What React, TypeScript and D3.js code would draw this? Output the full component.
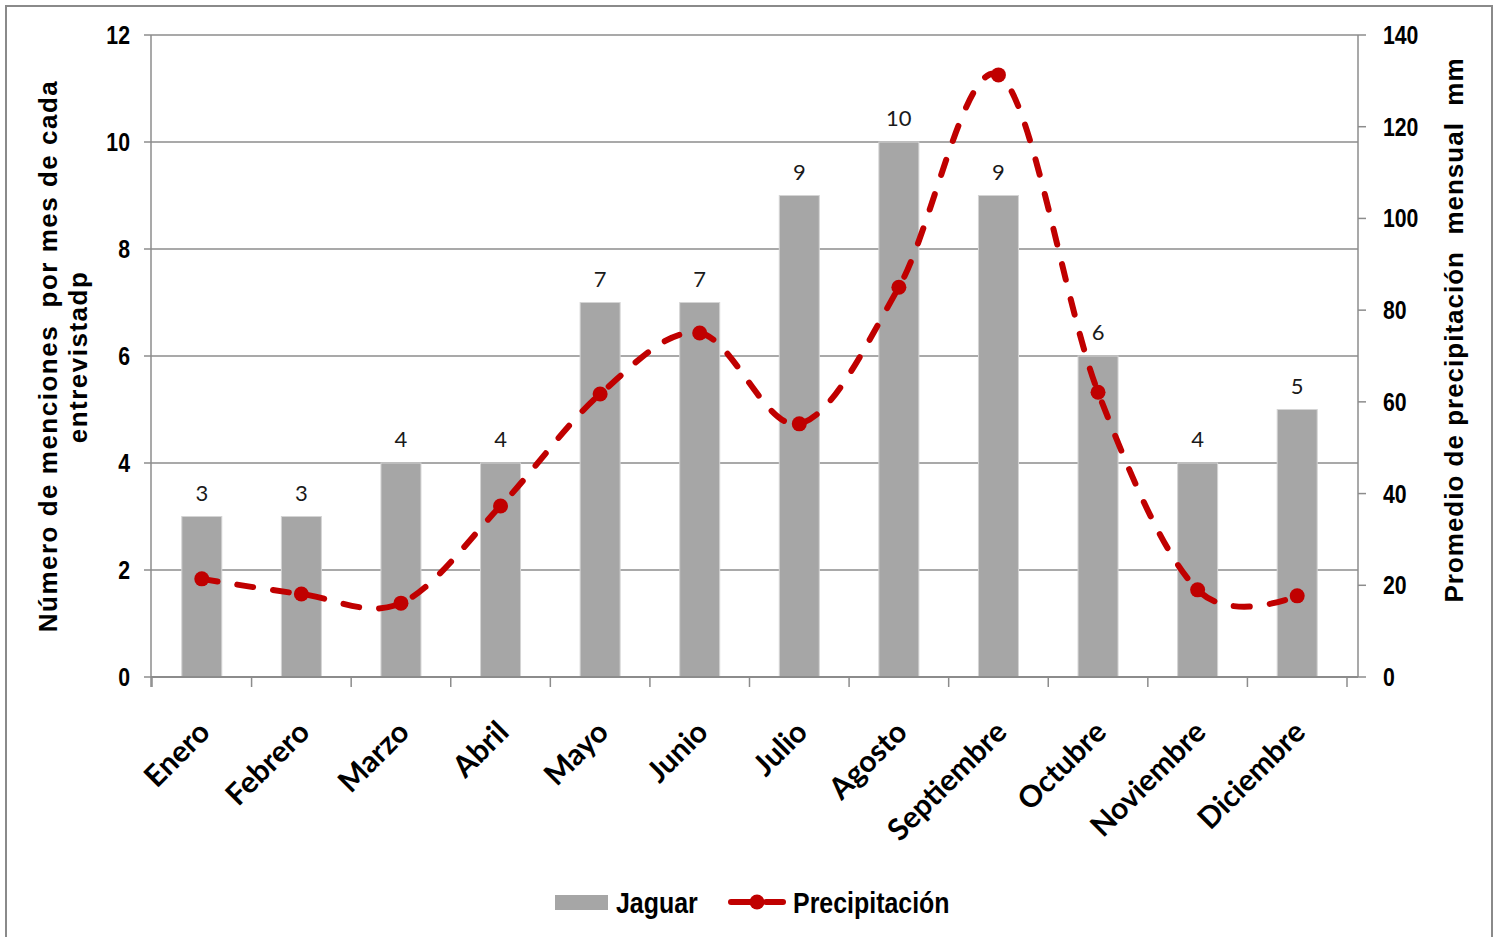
import React from "react";
import * as d3 from "d3";

const months = [
  "Enero", "Febrero", "Marzo", "Abril", "Mayo", "Junio",
  "Julio", "Agosto", "Septiembre", "Octubre", "Noviembre", "Diciembre",
];
const jaguar = [3, 3, 4, 4, 7, 7, 9, 10, 9, 6, 4, 5];
const precipitacion = [21.4, 18.1, 16.1, 37.3, 61.7, 75.0, 55.2, 85.0, 131.3, 62.1, 19.0, 17.7];
const leftTicks = [0, 2, 4, 6, 8, 10, 12];
const rightTicks = [0, 20, 40, 60, 80, 100, 120, 140];

const W = 1497;
const H = 937;
// plot frame: categories span catLeft..catRight, the secondary axis sits at M.right
const M = { left: 151, right: 1358, catLeft: 152, catRight: 1347, top: 35, bottom: 677 };

const sans = "'Liberation Sans', Arial, sans-serif";
const calibri = "Lato, 'Open Sans', sans-serif";
const RED = "#C00000";
const BAR = "#A6A6A6";
const GRID = "#8C8C8C";

// condensed bold label (narrow face emulated by horizontal scaling)
function NarrowText(props: {
  x: number;
  y: number;
  size: number;
  anchor: "start" | "end" | "middle";
  squeeze?: number;
  children: React.ReactNode;
}) {
  const s = props.squeeze ?? 0.85;
  return (
    <text
      transform={`translate(${props.x},${props.y}) scale(${s},1)`}
      textAnchor={props.anchor}
      fontFamily={sans}
      fontWeight="bold"
      fontSize={props.size}
      fill="#000"
    >
      {props.children}
    </text>
  );
}

export default function App() {
  const x = d3.scaleBand<string>().domain(months).range([M.catLeft, M.catRight]).paddingInner(0).paddingOuter(0);
  const yL = d3.scaleLinear().domain([0, 12]).range([M.bottom, M.top]);
  const yR = d3.scaleLinear().domain([0, 140]).range([M.bottom, M.top]);
  const barW = 40;
  const cx = (m: string) => (x(m) as number) + x.bandwidth() / 2;

  const line = d3
    .line<number>()
    .x((_, i) => cx(months[i]))
    .y((d) => yR(d))
    .curve(d3.curveCardinal.tension(0));
  const pathD = line(precipitacion) || "";

  const boundaries = d3.range(months.length + 1).map((i) => M.catLeft + i * x.bandwidth());

  return (
    <svg
      width={W}
      height={H}
      style={{ position: "absolute", left: 0, top: 0, background: "#fff" }}
    >
      {/* frame */}
      <rect x={6} y={6} width={1486} height={H + 20} fill="#fff" stroke="#8a8a8a" strokeWidth={2} />

      {/* gridlines */}
      {leftTicks.map((t) => (
        <line key={"g" + t} x1={M.left} x2={M.right} y1={yL(t)} y2={yL(t)} stroke={GRID} strokeWidth={1.5} />
      ))}

      {/* bars */}
      {months.map((m, i) => (
        <rect
          key={"b" + m}
          x={cx(m) - barW / 2}
          y={yL(jaguar[i])}
          width={barW}
          height={yL(0) - yL(jaguar[i])}
          fill={BAR}
          stroke="#d4d4d4"
          strokeWidth={1}
        />
      ))}

      {/* bar value labels */}
      {months.map((m, i) => (
        <text
          key={"l" + m}
          x={cx(m)}
          y={yL(jaguar[i]) - 16}
          textAnchor="middle"
          fontFamily={calibri}
          fontSize={22}
          fill="#1a1a1a"
        >
          {jaguar[i]}
        </text>
      ))}

      {/* left axis */}
      <line x1={M.left} x2={M.left} y1={M.top} y2={M.bottom + 10} stroke={GRID} strokeWidth={1.5} />
      {leftTicks.map((t) => (
        <g key={"lt" + t}>
          <line x1={M.left - 7} x2={M.left} y1={yL(t)} y2={yL(t)} stroke={GRID} strokeWidth={1.5} />
          <NarrowText x={130} y={yL(t) + 9} size={25} anchor="end">
            {t}
          </NarrowText>
        </g>
      ))}

      {/* right axis */}
      <line x1={M.right} x2={M.right} y1={M.top} y2={M.bottom} stroke={GRID} strokeWidth={1.5} />
      {rightTicks.map((t) => (
        <g key={"rt" + t}>
          <line x1={M.right} x2={M.right + 8} y1={yR(t)} y2={yR(t)} stroke={GRID} strokeWidth={1.5} />
          <NarrowText x={1383} y={yR(t) + 9} size={25} anchor="start">
            {t}
          </NarrowText>
        </g>
      ))}

      {/* category axis */}
      <line x1={M.left} x2={M.right} y1={M.bottom} y2={M.bottom} stroke={GRID} strokeWidth={2} />
      {boundaries.map((b, i) => (
        <line key={"ct" + i} x1={b} x2={b} y1={M.bottom} y2={M.bottom + 10} stroke={GRID} strokeWidth={1.5} />
      ))}
      {months.map((m) => (
        <text
          key={"m" + m}
          transform={`translate(${cx(m) + 10},${M.bottom + 57}) rotate(-45)`}
          textAnchor="end"
          fontFamily={calibri}
          fontWeight="bold"
          fontSize={30}
          fill="#000"
        >
          {m}
        </text>
      ))}

      {/* precipitation line */}
      <path
        d={pathD}
        fill="none"
        stroke={RED}
        strokeWidth={6}
        strokeDasharray="16 20"
        strokeLinecap="round"
      />
      {months.map((m, i) => (
        <circle key={"p" + m} cx={cx(m)} cy={yR(precipitacion[i])} r={7.5} fill={RED} />
      ))}

      {/* axis titles */}
      <text
        transform={`translate(57,356) rotate(-90)`}
        textAnchor="middle"
        fontFamily={sans}
        fontWeight="bold"
        fontSize={26}
        letterSpacing={1.5}
        fill="#000"
        xmlSpace="preserve"
        style={{ whiteSpace: "pre" }}
      >
        {"Número de menciones  por mes de cada"}
      </text>
      <text
        transform={`translate(87,357) rotate(-90)`}
        textAnchor="middle"
        fontFamily={sans}
        fontWeight="bold"
        fontSize={26}
        letterSpacing={1.5}
        fill="#000"
      >
        entrevistadp
      </text>
      <text
        transform={`translate(1463,330) rotate(-90)`}
        textAnchor="middle"
        fontFamily={sans}
        fontWeight="bold"
        fontSize={26}
        letterSpacing={1}
        fill="#000"
        xmlSpace="preserve"
        style={{ whiteSpace: "pre" }}
      >
        {"Promedio de precipitación  mensual  mm"}
      </text>

      {/* legend */}
      <rect x={555} y={895} width={53} height={15} fill={BAR} />
      <NarrowText x={616} y={913} size={29} anchor="start" squeeze={0.86}>
        Jaguar
      </NarrowText>
      <line x1={731} x2={752} y1={902} y2={902} stroke={RED} strokeWidth={6} strokeLinecap="round" />
      <line x1={766} x2={783} y1={902} y2={902} stroke={RED} strokeWidth={6} strokeLinecap="round" />
      <circle cx={757} cy={902} r={7.5} fill={RED} />
      <NarrowText x={793} y={913} size={29} anchor="start" squeeze={0.86}>
        Precipitación
      </NarrowText>
    </svg>
  );
}
